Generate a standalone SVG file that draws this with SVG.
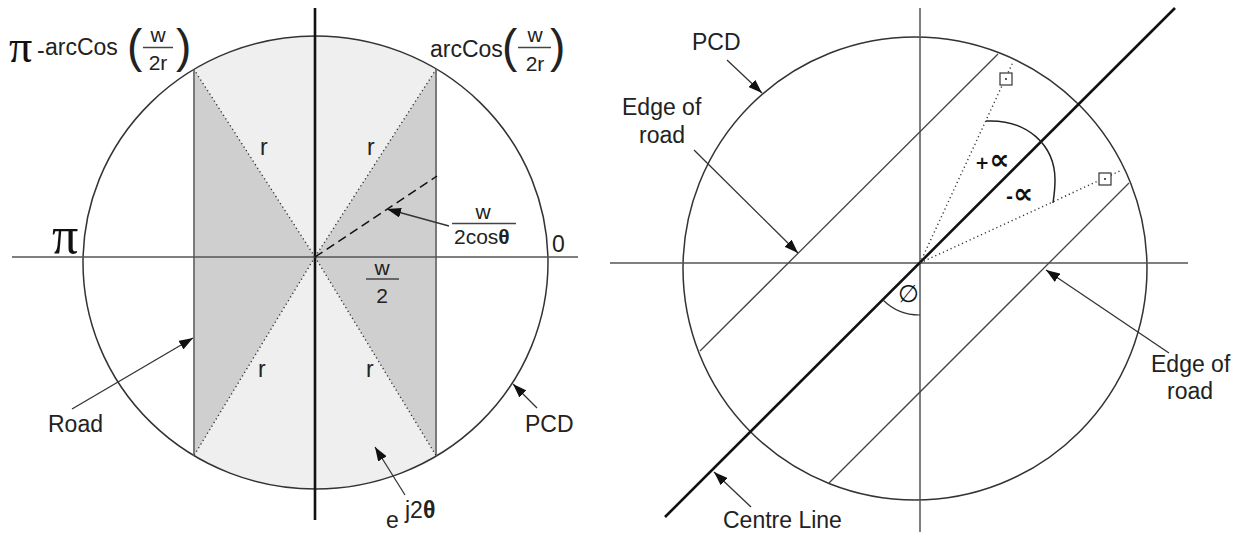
<svg xmlns="http://www.w3.org/2000/svg" width="1246" height="539" viewBox="0 0 1246 539">
<style>
.t{font-family:"Liberation Sans",Arial,sans-serif;font-size:23px;fill:#222}
.f{font-family:"Liberation Sans",Arial,sans-serif;font-size:21px;fill:#222}
.big{font-family:"Liberation Sans",Arial,sans-serif;font-size:46px;fill:#222}
.pi{font-family:"Liberation Serif","DejaVu Serif",serif;fill:#111}
.sym{font-family:"DejaVu Sans",sans-serif;font-weight:bold;fill:#111}
.circ{fill:none;stroke:#333;stroke-width:1.5}
.axis{stroke:#555;stroke-width:1.5}
.thick{stroke:#111;stroke-width:2.6}
.road{stroke:#7a7a7a;stroke-width:2}
.edge{stroke:#444;stroke-width:1.3}
.dot{stroke:#333;stroke-width:1.4;stroke-dasharray:1.2 3;fill:none}
.arr{stroke:#333;stroke-width:1.3;fill:none;marker-end:url(#ah)}
.frac{stroke:#444;stroke-width:1.5}
</style>
<defs>
<marker id="ah" viewBox="0 0 14 10" refX="14" refY="5" markerWidth="14" markerHeight="10" orient="auto" markerUnits="userSpaceOnUse">
<path d="M0,0 L14,5 L0,10 z" fill="#111"/>
</marker>
<clipPath id="lc"><ellipse cx="315.5" cy="262.5" rx="232.5" ry="226.5"/></clipPath>
</defs>
<rect width="1246" height="539" fill="#fff"/>

<g id="left-diagram">
<g id="left-shading">
<rect x="194" y="30" width="242" height="470" fill="#efefef" clip-path="url(#lc)"/>
<polygon points="194,69.5 315,257 194,455.5" fill="#cfcfcf"/>
<polygon points="436,69.5 315,257 436,455.5" fill="#cfcfcf"/>
</g>
<g id="left-pcd"><ellipse class="circ" cx="315.5" cy="262.5" rx="232.5" ry="226.5"/></g>
<g id="left-road">
<line class="road" x1="194" y1="69.5" x2="194" y2="455.5"/>
<line class="road" x1="436" y1="69.5" x2="436" y2="455.5"/>
</g>
<g id="left-axes">
<line class="axis" x1="12" y1="257" x2="578" y2="257"/>
<line class="thick" x1="315" y1="8" x2="315" y2="520"/>
</g>
<g id="left-radii">
<line class="dot" x1="315" y1="257" x2="194" y2="69.5"/>
<line class="dot" x1="315" y1="257" x2="436" y2="69.5"/>
<line class="dot" x1="315" y1="257" x2="194" y2="455.5"/>
<line class="dot" x1="315" y1="257" x2="436" y2="455.5"/>
<line x1="315" y1="257" x2="437" y2="176" stroke="#111" stroke-width="1.5" stroke-dasharray="9 5"/>
</g>
<g id="left-connectors">
<line class="arr" x1="449" y1="226" x2="387" y2="209"/>
<line class="arr" x1="72" y1="409" x2="193" y2="338"/>
<line class="arr" x1="537" y1="408" x2="513" y2="384"/>
<line class="arr" x1="405" y1="495" x2="375" y2="447"/>
</g>
<g id="left-labels">
<text class="pi" x="9" y="62" font-size="46">π</text>
<text class="t" x="37" y="58" font-size="20">-</text>
<text class="t" x="45" y="55" font-size="24.5">arcCos</text>
<text class="big" x="127" y="62">(</text>
<text class="f" x="158" y="42" text-anchor="middle">w</text>
<line class="frac" x1="143" y1="47.5" x2="173" y2="47.5"/>
<text class="f" x="158" y="70" text-anchor="middle">2r</text>
<text class="big" x="176" y="62">)</text>

<text class="t" x="430" y="57" font-size="23.5">arcCos</text>
<text class="big" x="502" y="62">(</text>
<text class="f" x="535" y="42" text-anchor="middle">w</text>
<line class="frac" x1="518" y1="47.5" x2="551" y2="47.5"/>
<text class="f" x="535" y="71" text-anchor="middle">2r</text>
<text class="big" x="550" y="62">)</text>

<text class="pi" x="52" y="253" font-size="52">π</text>
<text class="t" x="552" y="252">0</text>

<text class="t" x="260" y="155">r</text>
<text class="t" x="367" y="155">r</text>
<text class="t" x="258" y="377">r</text>
<text class="t" x="366" y="377">r</text>

<text class="f" x="483" y="219" text-anchor="middle">w</text>
<line class="frac" x1="452" y1="223.5" x2="516" y2="223.5"/>
<text class="f" x="454" y="244" font-size="22">2cos<tspan font-weight="bold">θ</tspan></text>

<text class="f" x="382" y="275" text-anchor="middle">w</text>
<line class="frac" x1="366" y1="279" x2="399" y2="279"/>
<text class="f" x="382" y="303" text-anchor="middle">2</text>

<text class="t" x="48" y="432">Road</text>
<text class="t" x="525" y="432">PCD</text>
<text class="t" x="386" y="528">e</text>
<text class="t" x="405" y="518" font-size="21">j2<tspan font-weight="bold">θ</tspan></text>
</g>
</g>

<g id="right-diagram">
<g id="right-pcd"><ellipse class="circ" cx="915" cy="268.5" rx="232" ry="231.5"/></g>
<g id="right-axes">
<line class="axis" x1="610" y1="263" x2="1188" y2="263"/>
<line class="axis" x1="920" y1="8" x2="920" y2="532"/>
</g>
<g id="edge-of-road-lines">
<line class="edge" x1="700" y1="351" x2="998" y2="54"/>
<line class="edge" x1="829" y1="483" x2="1129" y2="183"/>
</g>
<g id="centre-line"><line class="thick" x1="665" y1="517" x2="1175" y2="8"/></g>
<g id="alpha-rays">
<line class="dot" x1="920" y1="263" x2="1013" y2="62"/>
<line class="dot" x1="920" y1="263" x2="1122" y2="170"/>
<path d="M986,121 C1027,119 1055,145 1055,180 C1055,190 1054,196 1053,203" fill="none" stroke="#222" stroke-width="1.5"/>
<path d="M883,300 A52,52 0 0 0 920,315" fill="none" stroke="#333" stroke-width="1.2"/>
</g>
<g id="markers">
<rect x="1000" y="73" width="12" height="12" fill="#fff" stroke="#333" stroke-width="1.2"/>
<circle cx="1006" cy="79" r="1" fill="#222"/>
<rect x="1099" y="173" width="12" height="12" fill="#fff" stroke="#333" stroke-width="1.2"/>
<circle cx="1105" cy="179" r="1" fill="#222"/>
</g>
<g id="right-connectors">
<line class="arr" x1="727" y1="60" x2="762" y2="93"/>
<line class="arr" x1="694" y1="150" x2="798" y2="253"/>
<line class="arr" x1="1169" y1="353" x2="1046" y2="270"/>
<line class="arr" x1="751" y1="507" x2="714" y2="472"/>
</g>
<g id="right-labels">
<text class="sym" x="975" y="169"><tspan font-size="17">+</tspan><tspan font-size="28">∝</tspan></text>
<text class="sym" x="1006" y="203"><tspan font-size="17">-</tspan><tspan font-size="28">∝</tspan></text>
<text class="pi" x="908" y="302" font-size="24" font-family="DejaVu Sans" text-anchor="middle">∅</text>
<text class="t" x="692" y="50">PCD</text>
<text class="t" x="622" y="115">Edge of</text>
<text class="t" x="662" y="143" text-anchor="middle">road</text>
<text class="t" x="1151" y="372">Edge of</text>
<text class="t" x="1190" y="399" text-anchor="middle">road</text>
<text class="t" x="723" y="528">Centre Line</text>
</g>
</g>
</svg>
